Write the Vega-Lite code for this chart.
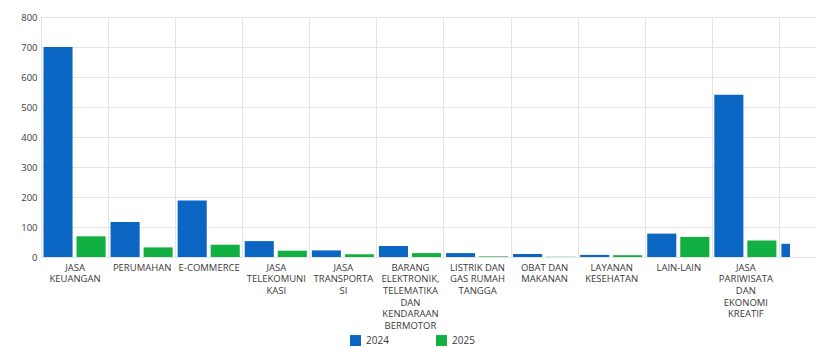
{
  "$schema": "https://vega.github.io/schema/vega-lite/v6.json",
  "autosize": "none",
  "width": 749,
  "height": 240,
  "padding": {"left": 41, "top": 17, "right": 26, "bottom": 91},
  "background": "white",
  "config": {
    "view": {"stroke": null},
    "font": "Open Sans"
  },
  "data": {
    "values": [
      {"kategori": "JASA KEUANGAN", "tahun": "2024", "jumlah": 700},
      {"kategori": "JASA KEUANGAN", "tahun": "2025", "jumlah": 69},
      {"kategori": "PERUMAHAN", "tahun": "2024", "jumlah": 117},
      {"kategori": "PERUMAHAN", "tahun": "2025", "jumlah": 32},
      {"kategori": "E-COMMERCE", "tahun": "2024", "jumlah": 188},
      {"kategori": "E-COMMERCE", "tahun": "2025", "jumlah": 41},
      {"kategori": "JASA TELEKOMUNIKASI", "tahun": "2024", "jumlah": 53},
      {"kategori": "JASA TELEKOMUNIKASI", "tahun": "2025", "jumlah": 21},
      {"kategori": "JASA TRANSPORTASI", "tahun": "2024", "jumlah": 22},
      {"kategori": "JASA TRANSPORTASI", "tahun": "2025", "jumlah": 9},
      {"kategori": "BARANG ELEKTRONIK, TELEMATIKA DAN KENDARAAN BERMOTOR", "tahun": "2024", "jumlah": 37},
      {"kategori": "BARANG ELEKTRONIK, TELEMATIKA DAN KENDARAAN BERMOTOR", "tahun": "2025", "jumlah": 13},
      {"kategori": "LISTRIK DAN GAS RUMAH TANGGA", "tahun": "2024", "jumlah": 13},
      {"kategori": "LISTRIK DAN GAS RUMAH TANGGA", "tahun": "2025", "jumlah": 2},
      {"kategori": "OBAT DAN MAKANAN", "tahun": "2024", "jumlah": 10},
      {"kategori": "OBAT DAN MAKANAN", "tahun": "2025", "jumlah": 1},
      {"kategori": "LAYANAN KESEHATAN", "tahun": "2024", "jumlah": 7},
      {"kategori": "LAYANAN KESEHATAN", "tahun": "2025", "jumlah": 6},
      {"kategori": "LAIN-LAIN", "tahun": "2024", "jumlah": 78},
      {"kategori": "LAIN-LAIN", "tahun": "2025", "jumlah": 67},
      {"kategori": "JASA PARIWISATA DAN EKONOMI KREATIF", "tahun": "2024", "jumlah": 541},
      {"kategori": "JASA PARIWISATA DAN EKONOMI KREATIF", "tahun": "2025", "jumlah": 55},
      {"kategori": "JASA LAINNYA", "tahun": "2024", "jumlah": 44}
    ]
  },
  "mark": {"type": "bar", "clip": true},
  "encoding": {
    "x": {
      "field": "kategori",
      "type": "nominal",
      "sort": null,
      "scale": {"paddingInner": 0, "paddingOuter": 0, "range": [0, 805]},
      "axis": {
        "title": null,
        "labelAngle": 0,
        "tickBand": "extent",
        "grid": true,
        "gridColor": "#e4e4e4",
        "domain": false,
        "ticks": false,
        "labelPadding": 5,
        "labelFontSize": 9.5,
        "labelColor": "#3a3a3a",
        "labelLimit": 0,
        "labelOverlap": false,
        "labelBound": false,
        "labelBaseline": "top",
        "labelLineHeight": 11.7,
        "labelExpr": "({'JASA KEUANGAN': ['JASA', 'KEUANGAN'], 'PERUMAHAN': 'PERUMAHAN', 'E-COMMERCE': 'E-COMMERCE', 'JASA TELEKOMUNIKASI': ['JASA', 'TELEKOMUNI', 'KASI'], 'JASA TRANSPORTASI': ['JASA', 'TRANSPORTA', 'SI'], 'BARANG ELEKTRONIK, TELEMATIKA DAN KENDARAAN BERMOTOR': ['BARANG', 'ELEKTRONIK,', 'TELEMATIKA', 'DAN', 'KENDARAAN', 'BERMOTOR'], 'LISTRIK DAN GAS RUMAH TANGGA': ['LISTRIK DAN', 'GAS RUMAH', 'TANGGA'], 'OBAT DAN MAKANAN': ['OBAT DAN', 'MAKANAN'], 'LAYANAN KESEHATAN': ['LAYANAN', 'KESEHATAN'], 'LAIN-LAIN': 'LAIN-LAIN', 'JASA PARIWISATA DAN EKONOMI KREATIF': ['JASA', 'PARIWISATA', 'DAN', 'EKONOMI', 'KREATIF'], 'JASA LAINNYA': ''})[datum.value]"
      }
    },
    "xOffset": {
      "field": "tahun",
      "type": "nominal",
      "scale": {"paddingInner": 0.12, "paddingOuter": 0.075}
    },
    "y": {
      "field": "jumlah",
      "type": "quantitative",
      "scale": {"domain": [0, 800]},
      "axis": {
        "title": null,
        "tickCount": 8,
        "grid": true,
        "gridColor": "#e4e4e4",
        "domain": false,
        "ticks": false,
        "labelPadding": 4,
        "labelFontSize": 9.5,
        "labelColor": "#3a3a3a"
      }
    },
    "color": {
      "field": "tahun",
      "type": "nominal",
      "scale": {"domain": ["2024", "2025"], "range": ["#0a66c2", "#12b043"]},
      "legend": {
        "title": null,
        "orient": "none",
        "direction": "horizontal",
        "legendX": 309,
        "legendY": 318,
        "symbolType": "square",
        "symbolSize": 120,
        "symbolStrokeWidth": 0,
        "labelFontSize": 10,
        "labelColor": "#3a3a3a",
        "columnPadding": 47,
        "labelOffset": 5
      }
    }
  }
}
